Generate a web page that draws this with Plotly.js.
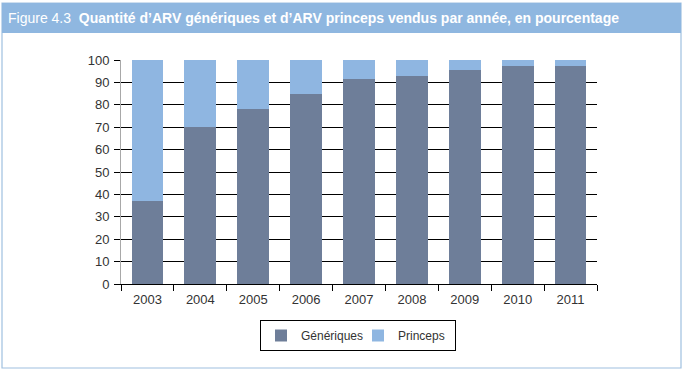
<!DOCTYPE html>
<html>
<head>
<meta charset="utf-8">
<script src="https://cdn.plot.ly/plotly-3.0.1.min.js"></script>
<style>html,body{margin:0;padding:0;background:#fff;}#chart{width:684px;height:371px;}</style>
</head>
<body>
<div id="chart"></div>
<script>
const years = ["2003","2004","2005","2006","2007","2008","2009","2010","2011"];
const generiques = [37, 70, 78, 85, 91.7, 92.7, 95.7, 97.5, 97.5];
const princeps = [63, 30, 22, 15, 8.3, 7.3, 4.3, 2.5, 2.5];
const yTicks = [0,10,20,30,40,50,60,70,80,90,100];

// plot area in pixels
const L = 121, R = 597, T = 60, B = 284, W = 684, H = 371;
const px = x => (x - L) / (R - L);
const py = y => (B - y) / (B - T);

const traces = [
  {type:'bar', name:'Génériques', x:years, y:generiques, marker:{color:'#6e7e99'}, width:0.6},
  {type:'bar', name:'Princeps', x:years, y:princeps, marker:{color:'#8fb6e1'}, width:0.6}
];

const layout = {
  width: W, height: H,
  margin: {l: L, r: W - R, t: T, b: H - B, pad: 0},
  paper_bgcolor: '#ffffff', plot_bgcolor: '#ffffff',
  barmode: 'stack',
  font: {family: 'Liberation Sans, Arial, sans-serif', size: 12, color: '#333333'},
  title: {
    text: 'Figure 4.3  <b>Quantité d’ARV génériques et d’ARV princeps vendus par année, en pourcentage</b>',
    font: {family: 'Liberation Sans, Arial, sans-serif', size: 14, color: '#ffffff'},
    xref: 'container', yref: 'container', x: 8 / W, xanchor: 'left', y: 1 - 18 / H, yanchor: 'middle'
  },
  xaxis: {
    type: 'category', showgrid: false, showline: true, linecolor: '#000000', linewidth: 1,
    ticks: 'outside', tickson: 'boundaries', ticklen: 6, tickcolor: '#000000',
    ticklabelstandoff: 3,
    tickfont: {size: 13, color: '#333333'}, fixedrange: true
  },
  yaxis: {
    range: [0, 100], tickvals: yTicks, ticktext: yTicks.map(String),
    showgrid: true, gridcolor: '#000000', gridwidth: 1,
    zeroline: false, showline: true, linecolor: '#a8a8a8', linewidth: 1,
    ticks: 'outside', ticklen: 6, tickcolor: '#000000',
    ticklabelstandoff: 2,
    tickfont: {size: 13, color: '#333333'}, fixedrange: true
  },
  legend: {
    orientation: 'h', x: px(358), xanchor: 'center', y: py(320), yanchor: 'top',
    bordercolor: '#000000', borderwidth: 1, font: {size: 12, color: '#333333'},
    itemwidth: 30, entrywidth: 52, entrywidthmode: 'pixels', traceorder: 'normal'
  },
  showlegend: true,
  shapes: [
    {type:'rect', xref:'paper', yref:'paper', x0: px(2), x1: px(681), y0: py(368), y1: py(3),
     line:{color:'#9fc0df', width:1.2}, fillcolor:'rgba(0,0,0,0)', layer:'below'},
    {type:'rect', xref:'paper', yref:'paper', x0: px(2), x1: px(681), y0: py(33), y1: py(3),
     line:{width:0}, fillcolor:'#8fb7e0', layer:'below'}
  ]
};

Plotly.newPlot('chart', traces, layout, {displayModeBar: false, staticPlot: true});
</script>
</body>
</html>
